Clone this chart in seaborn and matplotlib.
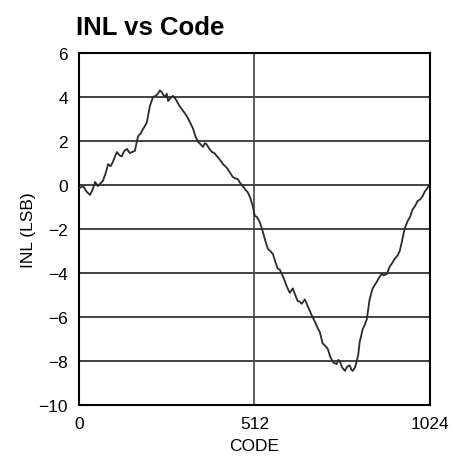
import seaborn as sns
import matplotlib
matplotlib.use("Agg")
import matplotlib.pyplot as plt
import pandas as pd

# values
code = [0, 12, 22, 32, 40, 47, 55, 61, 70, 78, 85, 92, 99, 105, 111, 118, 125, 132,
        140, 148, 155, 163, 172, 180, 187, 193, 198, 207, 216, 223, 230, 236, 241, 246,
        251, 256, 260, 267, 274, 280, 285, 293, 300, 307, 314, 324, 333, 340, 348, 355,
        362, 367, 372, 380, 388, 395, 402, 411, 420, 427, 434, 441, 449, 456, 463, 470,
        478, 485, 492, 499, 507, 513, 519, 528, 536, 543, 551, 558, 566, 573, 580, 586,
        592, 599, 606, 615, 624, 631, 638, 644, 650, 659, 666, 673, 680, 688, 695, 703,
        711, 718, 726, 733, 741, 746, 752, 757, 761, 768, 776, 783, 790, 795, 799, 805,
        810, 815, 819, 828, 834, 840, 848, 857, 863, 869, 876, 883, 890, 898, 907, 914,
        921, 930, 936, 942, 950, 959, 966, 974, 981, 988, 996, 1003, 1009, 1015, 1020, 1024]
inl = [-0.15, -0.05, -0.3, -0.45, -0.2, 0.14, -0.05, 0.05, 0.2, 0.55, 0.95, 0.85, 1.05, 1.3, 1.5, 1.35, 1.3, 1.55,
       1.64, 1.45, 1.5, 1.55, 2.2, 2.35, 2.55, 2.7, 2.85, 3.6, 4.0, 4.05, 4.15, 4.3, 4.23, 4.1,
       4.0, 4.15, 3.82, 3.95, 4.05, 3.95, 3.82, 3.6, 3.45, 3.3, 3.14, 2.85, 2.55, 2.2, 1.95, 1.85,
       1.73, 1.9, 1.86, 1.65, 1.5, 1.45, 1.32, 1.15, 0.95, 0.85, 0.73, 0.55, 0.36, 0.3, 0.27, 0.1,
       -0.05, -0.2, -0.32, -0.55, -0.95, -1.4, -1.45, -1.7, -2.1, -2.5, -2.9, -3.0, -3.14, -3.5, -3.8, -3.85,
       -4.05, -4.3, -4.6, -4.9, -4.7, -5.0, -5.27, -5.3, -5.4, -5.2, -5.45, -5.7, -5.95, -6.2, -6.45, -6.7,
       -7.2, -7.3, -7.45, -7.8, -8.05, -8.1, -8.14, -7.95, -8.0, -8.3, -8.45, -8.25, -8.2, -8.4, -8.45, -8.3,
       -8.05, -7.7, -7.14, -6.55, -6.35, -6.1, -5.2, -4.7, -4.55, -4.4, -4.2, -4.05, -4.1, -4.05, -3.7, -3.55,
       -3.36, -3.2, -3.0, -2.6, -2.0, -1.64, -1.45, -1.1, -0.95, -0.73, -0.65, -0.5, -0.3, -0.18, -0.05, 0.0]

yticks = [-10, -8, -6, -4, -2, 0, 2, 4, 6]
xticks = [0, 512, 1024]
ytick_labels = ["\u221210", "\u22128", "\u22126", "\u22124", "\u22122", "0", "2", "4", "6"]

sns.set_style("white")
plt.rcParams['font.family'] = ['Liberation Sans', 'DejaVu Sans']
plt.rcParams['text.color'] = 'black'
plt.rcParams['axes.labelcolor'] = 'black'
plt.rcParams['xtick.color'] = 'black'
plt.rcParams['ytick.color'] = 'black'

df = pd.DataFrame({'CODE': code, 'INL': inl})

fig = plt.figure(figsize=(4.53, 4.60), dpi=100)
ax = fig.add_axes([0.1744, 0.1174, 0.7746, 0.7652])

for y in yticks[1:-1]:
    ax.axhline(y, color='#222222', lw=1.2, zorder=1)
ax.axvline(512, color='#444444', lw=1.2, zorder=1)

sns.lineplot(data=df, x='CODE', y='INL', ax=ax, color='#2a2a2a', lw=1.3, zorder=3)

ax.set_xlim(0, 1024)
ax.set_ylim(-10, 6)
ax.set_xticks(xticks)
ax.set_yticks(yticks)
ax.set_yticklabels(ytick_labels)
ax.tick_params(axis='both', labelsize=12.5, length=0)
ax.tick_params(axis='x', pad=8)
ax.tick_params(axis='y', pad=8)
ax.set_xlabel('CODE', fontsize=12.5, labelpad=5)
ax.set_ylabel('INL (LSB)', fontsize=12.5, labelpad=2)
for s in ax.spines.values():
    s.set_color('black')
    s.set_linewidth(1.5)

fig.text(0.168, 0.965, 'INL vs Code', fontsize=18.5, fontweight='bold', ha='left', va='top')

fig.savefig('out.png', dpi=100)
